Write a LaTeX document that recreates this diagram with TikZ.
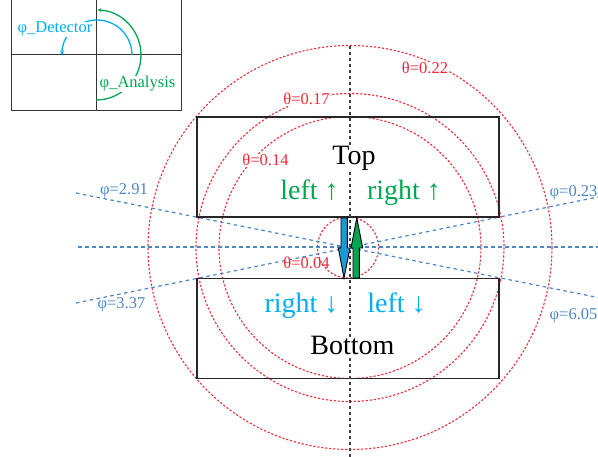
\documentclass[tikz,border=0pt]{standalone}
\usepackage{fontspec}
\setmainfont{Liberation Serif}
\usetikzlibrary{arrows.meta}
\definecolor{thred}{HTML}{EE2A35}
\definecolor{phblue}{HTML}{4A86C8}
\definecolor{grn}{HTML}{00A651}
\definecolor{cyn}{HTML}{00AEEF}
\definecolor{arrblue}{HTML}{1C9AD6}
\definecolor{gridgray}{HTML}{333333}
\begin{document}
\begin{tikzpicture}[x=1pt,y=-1pt,
  gridline/.style={draw=gridgray,line width=1pt},
  reddot/.style={draw=thred,line width=1.1pt,dash pattern=on 2.2pt off 1.8pt},
  bluedash/.style={draw=phblue,line width=1.2pt,dash pattern=on 3.5pt off 3.5pt},
  blackdot/.style={draw=black!75,line width=1.6pt,dash pattern=on 3pt off 3pt},
  boxline/.style={draw=black!85,line width=1.3pt,minimum width=302pt,minimum height=100pt,inner sep=0pt,outer sep=0pt},
  big/.style={font=\fontsize{28}{30}\selectfont,inner sep=0pt,anchor=base},
  small/.style={font=\fontsize{16.5}{18}\selectfont,inner sep=0.5pt,anchor=base},
  thlab/.style={small,text=thred,fill=white},
  phlab/.style={small,text=phblue},
  bigarrow/.style={draw=black,line width=0.9pt,line join=miter}]
\useasboundingbox (0,0) rectangle (598,457);
% inset
\coordinate (o) at (96,55);
\draw[gridline] (11,-5) rectangle (181,111);
\draw[gridline] (96,-5) -- (96,111);
\draw[gridline] (11,55) -- (181,55);
\draw[cyn,line width=1.3pt,-{Stealth[length=4pt,width=4pt]}] (132,55) arc[start angle=0,end angle=-180,radius=35];
\draw[grn,line width=1.3pt,-{Stealth[length=4pt,width=4pt]}] (96,100) arc[start angle=90,end angle=-88,radius=45];
\node[small,text=cyn,fill=white,anchor=base] (det) at (55,33) {φ\_Detector};
\node[small,text=grn,fill=white,anchor=base] (ana) at (137.5,88) {φ\_Analysis};
% centre
\coordinate (c) at (350,247.5);
\draw[reddot] (c) circle[radius=202];
\draw[reddot] (c) circle[radius=154];
\draw[reddot] (c) circle[radius=131];
\draw[reddot] (348,247.5) circle[radius=30.5];
% blue lines
\coordinate (hl) at (78,247);
\coordinate (hr) at (598,247);
\coordinate (ul) at (76,193);
\coordinate (lr) at (598,297.5);
\coordinate (ll) at (76,303);
\coordinate (ur) at (598,197);
\draw[bluedash] (hl) -- (hr);
\draw[bluedash] (ul) -- (lr);
\draw[bluedash] (ll) -- (ur);
% boxes
\node[boxline,draw] (topbox) at (348,167) {};
\node[boxline,draw] (botbox) at (348,328.5) {};
% vertical line
\coordinate (vt) at (350,46);
\coordinate (vb) at (350,457);
\draw[blackdot] (vt) -- (vb);
% arrows
\filldraw[bigarrow,fill=arrblue] (341,218) -- (347.3,218) -- (347.3,248) -- (350,248) -- (344,278) -- (338.3,248) -- (341,248) -- cycle;
\filldraw[bigarrow,fill=grn] (353,278) -- (359.3,278) -- (359.3,248) -- (362.7,248) -- (356.8,218) -- (351,248) -- (353,248) -- cycle;
% texts
\node[big,fill=white] (top) at (354,164.5) {Top};
\node[big,text=grn] (lu) at (309.5,200) {left ↑};
\node[big,text=grn] (ru) at (404,200) {right ↑};
\node[big,text=cyn] (rd) at (301.5,313) {right ↓};
\node[big,text=cyn] (ld) at (396.5,313) {left ↓};
\node[big,fill=white] (bot) at (352.5,355) {Bottom};
% theta labels
\node[thlab] (t22) at (425,74) {θ=0.22};
\node[thlab] (t17) at (306.5,105) {θ=0.17};
\node[thlab] (t14) at (265.5,166) {θ=0.14};
\node[thlab,fill=none] (t04) at (306.5,269) {θ=0.04};
% phi labels
\node[phlab] (p291) at (124,195) {φ=2.91};
\node[phlab] (p337) at (121.5,309) {φ=3.37};
\node[phlab,anchor=base west] (p023) at (549,197) {φ=0.23};
\node[phlab,anchor=base west] (p605) at (549,320) {φ=6.05};
\end{tikzpicture}
\end{document}
